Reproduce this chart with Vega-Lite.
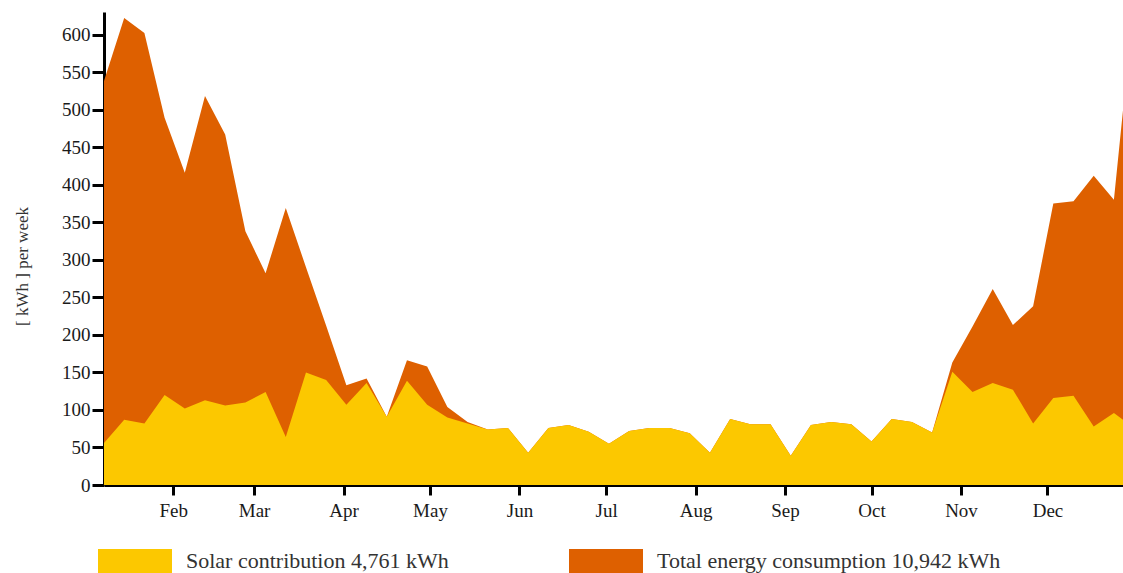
{
  "$schema": "https://vega.github.io/schema/vega-lite/v6.json",
  "width": 1019,
  "height": 473,
  "autosize": {"type": "none"},
  "padding": {"left": 104, "top": 12, "right": 0, "bottom": 88},
  "background": "white",
  "config": {"view": {"stroke": null}, "font": "Liberation Serif"},
  "data": {
    "values": [
      {"week": 1, "solar": 56, "total": 538},
      {"week": 2, "solar": 87, "total": 622},
      {"week": 3, "solar": 82, "total": 602},
      {"week": 4, "solar": 120, "total": 489},
      {"week": 5, "solar": 102, "total": 416},
      {"week": 6, "solar": 113, "total": 518},
      {"week": 7, "solar": 106, "total": 467},
      {"week": 8, "solar": 110, "total": 338},
      {"week": 9, "solar": 124, "total": 282},
      {"week": 10, "solar": 64, "total": 369},
      {"week": 11, "solar": 150, "total": 290},
      {"week": 12, "solar": 140, "total": 212},
      {"week": 13, "solar": 107, "total": 133},
      {"week": 14, "solar": 136, "total": 142},
      {"week": 15, "solar": 91, "total": 91},
      {"week": 16, "solar": 139, "total": 166},
      {"week": 17, "solar": 107, "total": 158},
      {"week": 18, "solar": 90, "total": 104},
      {"week": 19, "solar": 82, "total": 84},
      {"week": 20, "solar": 74, "total": 74},
      {"week": 21, "solar": 76, "total": 76},
      {"week": 22, "solar": 43, "total": 43},
      {"week": 23, "solar": 76, "total": 76},
      {"week": 24, "solar": 80, "total": 80},
      {"week": 25, "solar": 71, "total": 71},
      {"week": 26, "solar": 55, "total": 55},
      {"week": 27, "solar": 72, "total": 72},
      {"week": 28, "solar": 76, "total": 76},
      {"week": 29, "solar": 76, "total": 76},
      {"week": 30, "solar": 69, "total": 69},
      {"week": 31, "solar": 43, "total": 43},
      {"week": 32, "solar": 88, "total": 88},
      {"week": 33, "solar": 81, "total": 81},
      {"week": 34, "solar": 81, "total": 81},
      {"week": 35, "solar": 39, "total": 39},
      {"week": 36, "solar": 80, "total": 80},
      {"week": 37, "solar": 84, "total": 84},
      {"week": 38, "solar": 81, "total": 81},
      {"week": 39, "solar": 58, "total": 58},
      {"week": 40, "solar": 88, "total": 88},
      {"week": 41, "solar": 84, "total": 84},
      {"week": 42, "solar": 70, "total": 70},
      {"week": 43, "solar": 151, "total": 163},
      {"week": 44, "solar": 124, "total": 211},
      {"week": 45, "solar": 136, "total": 261},
      {"week": 46, "solar": 127, "total": 213},
      {"week": 47, "solar": 82, "total": 238},
      {"week": 48, "solar": 116, "total": 375},
      {"week": 49, "solar": 119, "total": 378},
      {"week": 50, "solar": 78, "total": 412},
      {"week": 51, "solar": 96, "total": 380},
      {"week": 52, "solar": 76, "total": 645}
    ]
  },
  "transform": [{"fold": ["solar", "total"], "as": ["series", "kwh"]}],
  "encoding": {
    "x": {
      "field": "week",
      "type": "quantitative",
      "scale": {"domain": [1, 51.45], "nice": false, "zero": false},
      "axis": {
        "values": [4.43, 8.43, 12.86, 17.14, 21.57, 25.86, 30.29, 34.71, 39, 43.43, 47.71],
        "labelExpr": "datum.value < 6 ? 'Feb' : datum.value < 10 ? 'Mar' : datum.value < 15 ? 'Apr' : datum.value < 19 ? 'May' : datum.value < 23 ? 'Jun' : datum.value < 28 ? 'Jul' : datum.value < 32 ? 'Aug' : datum.value < 37 ? 'Sep' : datum.value < 41 ? 'Oct' : datum.value < 45 ? 'Nov' : 'Dec'",
        "title": null,
        "grid": false,
        "domainColor": "black",
        "domainWidth": 3,
        "tickColor": "black",
        "tickWidth": 3,
        "tickSize": 10,
        "labelFont": "Liberation Serif",
        "labelFontSize": 19,
        "labelColor": "#1a1a1a",
        "labelPadding": 6,
        "labelFlush": false,
        "labelOverlap": false
      }
    },
    "y": {
      "field": "kwh",
      "type": "quantitative",
      "stack": null,
      "scale": {"domain": [0, 630], "nice": false},
      "axis": {
        "values": [0, 50, 100, 150, 200, 250, 300, 350, 400, 450, 500, 550, 600],
        "title": "[ kWh ]  per week",
        "grid": false,
        "domainColor": "black",
        "domainWidth": 3,
        "tickColor": "black",
        "tickWidth": 3,
        "tickSize": 12,
        "labelFont": "Liberation Serif",
        "labelFontSize": 19,
        "labelColor": "#1a1a1a",
        "labelPadding": 2,
        "titleFont": "Liberation Serif",
        "titleFontSize": 17,
        "titleFontWeight": "normal",
        "titleColor": "#333333",
        "titleX": -82,
        "titleY": 254,
        "titleAngle": 270,
        "titleAlign": "center",
        "titleBaseline": "middle"
      }
    },
    "color": {
      "field": "series",
      "type": "nominal",
      "scale": {"domain": ["solar", "total"], "range": ["#FCC800", "#DE6000"]},
      "legend": {
        "orient": "none",
        "legendX": -6,
        "legendY": 512,
        "direction": "horizontal",
        "title": null,
        "padding": 0,
        "symbolType": "M-1,-0.324H1V0.324H-1Z",
        "symbolSize": 5476,
        "symbolStrokeWidth": 0,
        "symbolOpacity": 1,
        "labelFont": "Liberation Serif",
        "labelFontSize": 22,
        "labelColor": "#333333",
        "labelOffset": 14,
        "labelLimit": 0,
        "columnPadding": 120,
        "labelExpr": "datum.label == 'solar' ? 'Solar contribution 4,761 kWh' : 'Total energy consumption 10,942 kWh'"
      }
    }
  },
  "layer": [
    {
      "transform": [{"filter": "datum.series == 'total'"}],
      "mark": {"type": "area", "clip": true, "opacity": 1}
    },
    {
      "transform": [{"filter": "datum.series == 'solar'"}],
      "mark": {"type": "area", "clip": true, "opacity": 1}
    }
  ]
}
